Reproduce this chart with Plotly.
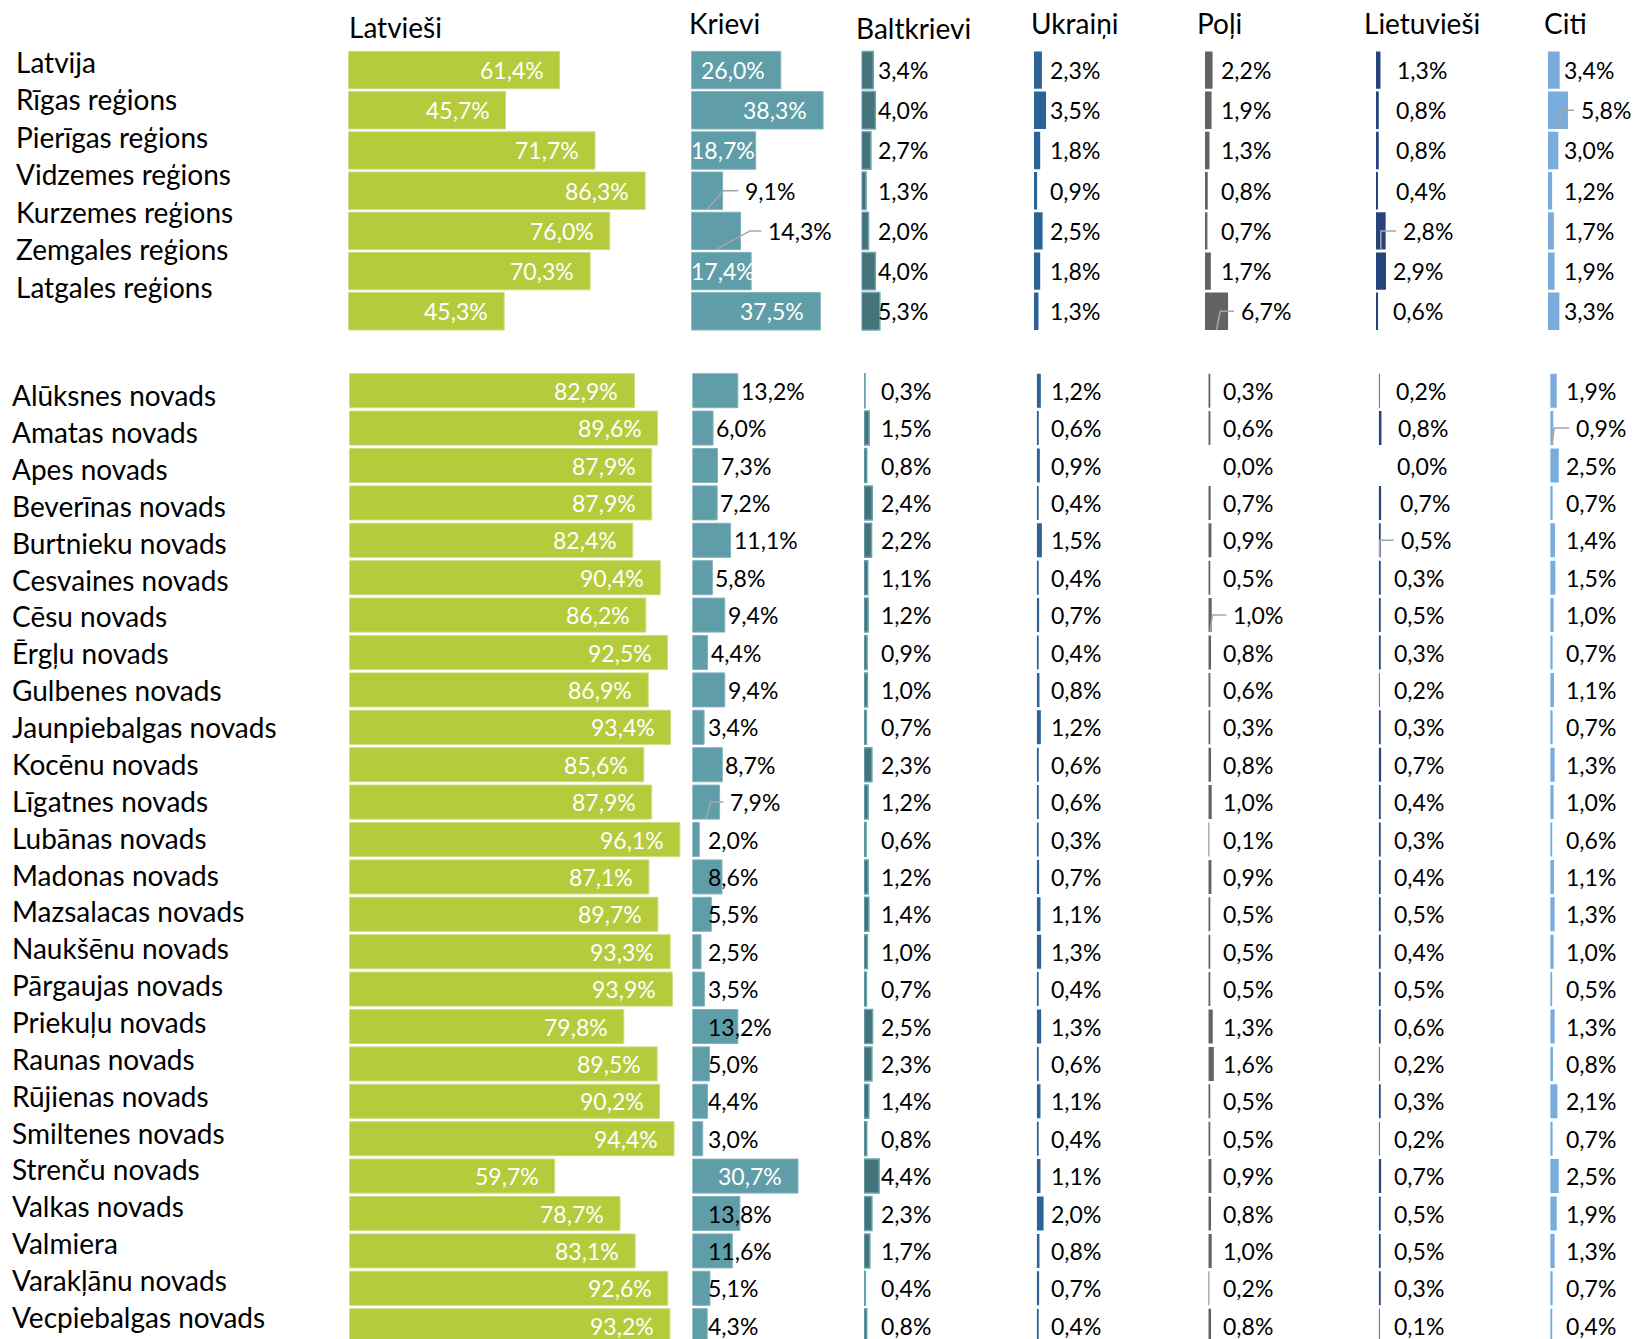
import plotly.graph_objects as go

W, H = 1635, 1339

# ---------------- data ----------------
col_titles = ["Latvieši", "Krievi", "Baltkrievi", "Ukraiņi", "Poļi", "Lietuvieši", "Citi"]

region_names = ["Latvija", "Rīgas reģions", "Pierīgas reģions", "Vidzemes reģions",
                "Kurzemes reģions", "Zemgales reģions", "Latgales reģions"]
region_latviesi = [61.4, 45.7, 71.7, 86.3, 76.0, 70.3, 45.3]
region_krievi = [26.0, 38.3, 18.7, 9.1, 14.3, 17.4, 37.5]
region_baltkrievi = [3.4, 4.0, 2.7, 1.3, 2.0, 4.0, 5.3]
region_ukraini = [2.3, 3.5, 1.8, 0.9, 2.5, 1.8, 1.3]
region_poli = [2.2, 1.9, 1.3, 0.8, 0.7, 1.7, 6.7]
region_lietuviesi = [1.3, 0.8, 0.8, 0.4, 2.8, 2.9, 0.6]
region_citi = [3.4, 5.8, 3.0, 1.2, 1.7, 1.9, 3.3]

novads_names = ["Alūksnes novads", "Amatas novads", "Apes novads", "Beverīnas novads",
                "Burtnieku novads", "Cesvaines novads", "Cēsu novads", "Ērgļu novads",
                "Gulbenes novads", "Jaunpiebalgas novads", "Kocēnu novads", "Līgatnes novads",
                "Lubānas novads", "Madonas novads", "Mazsalacas novads", "Naukšēnu novads",
                "Pārgaujas novads", "Priekuļu novads", "Raunas novads", "Rūjienas novads",
                "Smiltenes novads", "Strenču novads", "Valkas novads", "Valmiera",
                "Varakļānu novads", "Vecpiebalgas novads"]
novads_latviesi = [82.9, 89.6, 87.9, 87.9, 82.4, 90.4, 86.2, 92.5, 86.9, 93.4, 85.6, 87.9, 96.1,
                   87.1, 89.7, 93.3, 93.9, 79.8, 89.5, 90.2, 94.4, 59.7, 78.7, 83.1, 92.6, 93.2]
novads_krievi = [13.2, 6.0, 7.3, 7.2, 11.1, 5.8, 9.4, 4.4, 9.4, 3.4, 8.7, 7.9, 2.0,
                 8.6, 5.5, 2.5, 3.5, 13.2, 5.0, 4.4, 3.0, 30.7, 13.8, 11.6, 5.1, 4.3]
novads_baltkrievi = [0.3, 1.5, 0.8, 2.4, 2.2, 1.1, 1.2, 0.9, 1.0, 0.7, 2.3, 1.2, 0.6,
                     1.2, 1.4, 1.0, 0.7, 2.5, 2.3, 1.4, 0.8, 4.4, 2.3, 1.7, 0.4, 0.8]
novads_ukraini = [1.2, 0.6, 0.9, 0.4, 1.5, 0.4, 0.7, 0.4, 0.8, 1.2, 0.6, 0.6, 0.3,
                  0.7, 1.1, 1.3, 0.4, 1.3, 0.6, 1.1, 0.4, 1.1, 2.0, 0.8, 0.7, 0.4]
novads_poli = [0.3, 0.6, 0.0, 0.7, 0.9, 0.5, 1.0, 0.8, 0.6, 0.3, 0.8, 1.0, 0.1,
               0.9, 0.5, 0.5, 0.5, 1.3, 1.6, 0.5, 0.5, 0.9, 0.8, 1.0, 0.2, 0.8]
novads_lietuviesi = [0.2, 0.8, 0.0, 0.7, 0.5, 0.3, 0.5, 0.3, 0.2, 0.3, 0.7, 0.4, 0.3,
                     0.4, 0.5, 0.4, 0.5, 0.6, 0.2, 0.3, 0.2, 0.7, 0.5, 0.5, 0.3, 0.1]
novads_citi = [1.9, 0.9, 2.5, 0.7, 1.4, 1.5, 1.0, 0.7, 1.1, 0.7, 1.3, 1.0, 0.6,
               1.1, 1.3, 1.0, 0.5, 1.3, 0.8, 2.1, 0.7, 2.5, 1.9, 1.3, 0.7, 0.4]

# ---------------- style / layout ----------------
FONT = "Lato"
VAL_SIZE = 23
LABEL_SIZE = 28
TITLE_SIZE = 28

bar_colors = ["#B5CB3C", "#5F9EA8", "#46727A", "#2B6399", "#636363", "#26447B", "#7AADDC"]
line_colors = ["#CCDC80", "#7FB2BA", "#6AA5AD", "#2B6399", "#636363", "#26447B", "#7AADDC"]
line_widths = [1, 1, 1.5, 0, 0, 0, 0]
LEADER_COLOR = "#A6A6A6"

PX = 3.44  # pixels per percentage point
col_width = [340, 160, 160, 160, 160, 160, None]

title_pos = [(349, 26.5), (689, 22.5), (856.4, 27.5), (1030.5, 23), (1196.8, 23), (1364, 23), (1544, 23)]

SECTIONS = [
    dict(names=region_names,
         series=[region_latviesi, region_krievi, region_baltkrievi, region_ukraini,
                 region_poli, region_lietuviesi, region_citi],
         x0=[348.3, 691.3, 861.6, 1034.0, 1205.0, 1376.0, 1548.0],
         top=50.0, pitch=40.2, bar=0.93,
         label_x=15.7, label_y0=61.5, label_pitch=37.54,
         offsets=[0, 16, 16.5, 16, 16, 17, 16]),
    dict(names=novads_names,
         series=[novads_latviesi, novads_krievi, novads_baltkrievi, novads_ukraini,
                 novads_poli, novads_lietuviesi, novads_citi],
         x0=[349.3, 692.4, 864.0, 1036.7, 1208.3, 1378.7, 1550.2],
         top=372.0, pitch=37.4, bar=0.91,
         label_x=11.5, label_y0=395.2, label_pitch=36.87,
         offsets=[0, 16, 16.8, 14.6, 15, 15.6, 15.6]),
]

# per-label offset overrides (px from column start)
OFFSET_OVERRIDE = {(0, 5, 0): 21, (0, 5, 1): 20, (0, 5, 2): 20, (0, 5, 3): 20,
                   (1, 5, 0): 17, (1, 5, 1): 19, (1, 5, 2): 18, (1, 5, 3): 21}
# Krievi labels in the novads block that follow the bar end
FOLLOW_BAR = set(range(0, 11))
# leader-line labels: (text offset px, corner fraction)
LEADERS = {(0, 1, 3): (54, 0.43), (0, 1, 4): (77, 0.65), (1, 1, 11): (38, 0.2),
           (0, 4, 6): (36, 0.15), (1, 4, 6): (25, 0.1),
           (0, 5, 4): (27, 0.0), (1, 5, 4): (22, 0.0),
           (0, 6, 1): (33, 0.18), (1, 6, 1): (26, 0.1)}


def fmt(v):
    return f"{v:.1f}".replace(".", ",") + "%"


fig = go.Figure()
annotations = []
layout_axes = {}

for s, sec in enumerate(SECTIONS):
    n = len(sec["names"])
    top = sec["top"]
    bottom = min(top + n * sec["pitch"], H)
    ydom = [1 - bottom / H, 1 - top / H]
    yrange = [-0.5 + (bottom - top) / sec["pitch"], -0.5]
    rows = list(range(n))
    for c in range(7):
        idx = s * 7 + c + 1
        xname = "x" if idx == 1 else f"x{idx}"
        yname = "y" if idx == 1 else f"y{idx}"
        x0 = sec["x0"][c]
        x1 = W if col_width[c] is None else min(x0 + col_width[c], W)
        layout_axes["xaxis" if idx == 1 else f"xaxis{idx}"] = dict(
            domain=[x0 / W, x1 / W], range=[0, (x1 - x0) / PX], visible=False,
            anchor=yname, fixedrange=True)
        layout_axes["yaxis" if idx == 1 else f"yaxis{idx}"] = dict(
            domain=ydom, range=yrange, visible=False, anchor=xname, fixedrange=True)
        vals = sec["series"][c]
        fig.add_trace(go.Bar(
            x=vals, y=rows, orientation="h", width=sec["bar"], xaxis=xname, yaxis=yname,
            marker=dict(color=bar_colors[c], line=dict(color=line_colors[c], width=line_widths[c])),
            hoverinfo="skip", showlegend=False))
        for r, v in enumerate(vals):
            key = (s, c, r)
            txt = fmt(v)
            if c == 0:
                annotations.append(dict(x=v, y=r, xref=xname, yref=yname, text=txt,
                                        xanchor="right", xshift=-16, showarrow=False,
                                        font=dict(color="white", size=VAL_SIZE, family=FONT)))
                continue
            if c == 1 and v >= 17:
                if v * PX - 16 >= 66:
                    annotations.append(dict(x=v, y=r, xref=xname, yref=yname, text=txt,
                                            xanchor="right", xshift=-16, showarrow=False,
                                            font=dict(color="white", size=VAL_SIZE, family=FONT)))
                else:
                    annotations.append(dict(x=0, y=r, xref=xname, yref=yname, text=txt,
                                            xanchor="left", xshift=0, showarrow=False,
                                            font=dict(color="white", size=VAL_SIZE, family=FONT)))
                continue
            off = sec["offsets"][c]
            if key in OFFSET_OVERRIDE:
                off = OFFSET_OVERRIDE[key]
            if c == 1 and s == 1 and r in FOLLOW_BAR:
                off = max(v * PX + 3, off)
            if key in LEADERS:
                off, frac = LEADERS[key]
                tx = off / PX
                xs = v / 2
                xc = xs + frac * (tx - xs)
                xe = tx - 7 / PX
                fig.add_trace(go.Scatter(
                    x=[xs, xc, xe], y=[r + sec["bar"] / 2, r, r], mode="lines",
                    xaxis=xname, yaxis=yname, line=dict(color=LEADER_COLOR, width=1.5),
                    hoverinfo="skip", showlegend=False, cliponaxis=False))
            annotations.append(dict(x=0, y=r, xref=xname, yref=yname, text=txt,
                                    xanchor="left", xshift=off, showarrow=False,
                                    font=dict(color="black", size=VAL_SIZE, family=FONT)))
    # row labels
    for i, name in enumerate(sec["names"]):
        yc = sec["label_y0"] + i * sec["label_pitch"]
        annotations.append(dict(x=sec["label_x"] / W, y=1 - yc / H, xref="paper", yref="paper",
                                text=name, xanchor="left", yanchor="middle", showarrow=False,
                                font=dict(color="black", size=LABEL_SIZE, family=FONT)))

for t, (tx, ty) in zip(col_titles, title_pos):
    annotations.append(dict(x=tx / W, y=1 - ty / H, xref="paper", yref="paper", text=t,
                            xanchor="left", yanchor="middle", showarrow=False,
                            font=dict(color="black", size=TITLE_SIZE, family=FONT)))

for a in annotations:
    a["borderpad"] = 0
    a["borderwidth"] = 0

fig.update_layout(width=W, height=H, margin=dict(l=0, r=0, t=0, b=0),
                  paper_bgcolor="white", plot_bgcolor="white", barmode="overlay",
                  annotations=annotations, showlegend=False, **layout_axes)

fig.write_html("out.html", config={"displayModeBar": False},
               post_script="document.body.style.margin='0';document.body.style.overflow='hidden';")
